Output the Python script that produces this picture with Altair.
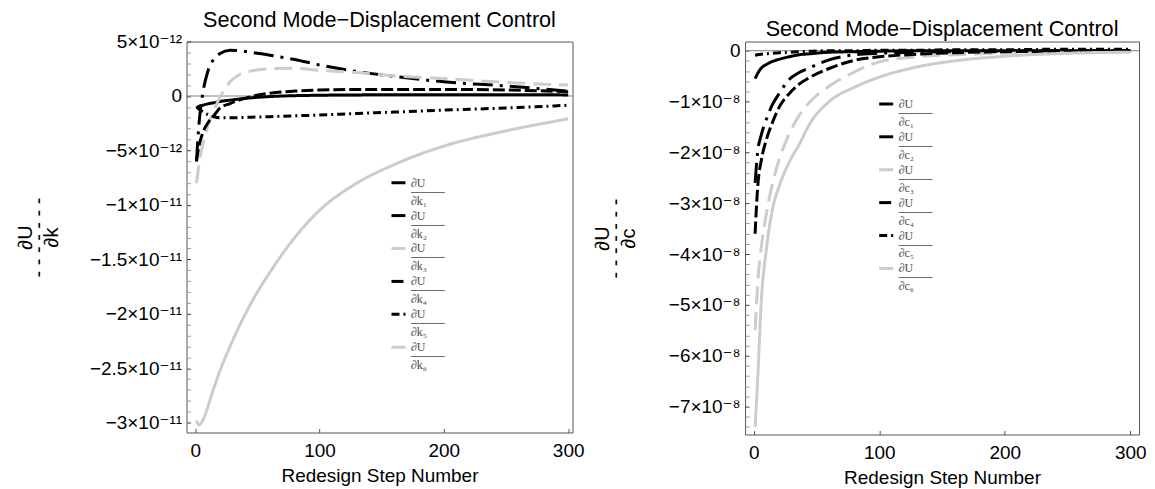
import altair as alt
import pandas as pd

# ---------------- data ----------------
steps = [1, 3, 6, 10, 15, 20, 28, 36, 45, 60, 80, 100, 130, 160, 200, 250, 300]

# left panel: dU/dk, values in units of 1e-12
k_names = ["∂U/∂k₁", "∂U/∂k₂", "∂U/∂k₃", "∂U/∂k₄", "∂U/∂k₅", "∂U/∂k₆"]
k1 = [-1.1, -0.95, -0.85, -0.72, -0.62, -0.5, -0.38, -0.27, -0.17, -0.05, 0.03, 0.07, 0.1, 0.12, 0.12, 0.12, 0.1]
k2 = [-6.0, -2.6, 0.2, 2.2, 3.4, 3.9, 4.2, 4.15, 4.0, 3.75, 3.35, 2.85, 2.25, 1.8, 1.3, 0.92, 0.45]
k3 = [-8.0, -6.3, -4.5, -2.8, -1.3, -0.1, 1.3, 2.0, 2.3, 2.5, 2.55, 2.35, 2.15, 1.85, 1.6, 1.25, 1.0]
k4 = [-6.0, -4.6, -3.4, -2.5, -1.8, -1.1, -0.7, -0.35, -0.05, 0.25, 0.45, 0.55, 0.6, 0.6, 0.6, 0.55, 0.4]
k5 = [-1.0, -1.2, -1.45, -1.7, -1.9, -2.0, -2.0, -1.98, -1.95, -1.9, -1.82, -1.75, -1.6, -1.48, -1.3, -1.1, -0.85]
k6 = [-29.8, -30.2, -29.8, -28.6, -26.8, -25.2, -23.0, -21.0, -19.0, -16.2, -13.0, -10.5, -8.0, -6.3, -4.6, -3.2, -2.1]
# frame ticks: every 1e-12, labelled every 5e-12
k_ticks = list(range(-30, 6))

# right panel: dU/dc, values in units of 1e-8
c_names = ["∂U/∂c₁", "∂U/∂c₂", "∂U/∂c₃", "∂U/∂c₄", "∂U/∂c₅", "∂U/∂c₆"]
c1 = [-0.55, -0.45, -0.34, -0.27, -0.21, -0.17, -0.12, -0.08, -0.06, -0.03, -0.02, -0.01, 0.0, 0.0, 0.0, 0.0, 0.0]
c2 = [-2.6, -2.0, -1.65, -1.35, -1.05, -0.85, -0.57, -0.43, -0.33, -0.18, -0.08, -0.05, -0.03, -0.02, -0.01, 0.0, 0.0]
c3 = [-5.5, -4.6, -3.85, -3.2, -2.6, -2.15, -1.65, -1.28, -1.0, -0.7, -0.42, -0.22, -0.12, -0.08, -0.05, -0.04, -0.03]
c4 = [-3.6, -2.7, -2.15, -1.75, -1.4, -1.12, -0.85, -0.66, -0.52, -0.35, -0.19, -0.12, -0.07, -0.04, -0.02, -0.01, 0.0]
c5 = [-0.09, -0.08, -0.07, -0.06, -0.05, -0.04, -0.03, -0.02, -0.01, 0.0, 0.0, 0.01, 0.01, 0.02, 0.02, 0.03, 0.03]
c6 = [-7.4, -6.5, -4.9, -3.9, -3.1, -2.68, -2.2, -1.85, -1.42, -1.0, -0.72, -0.52, -0.32, -0.2, -0.11, -0.05, -0.03]
# frame ticks: every 0.2e-8, labelled every 1e-8
c_ticks = [round(-0.2 * i, 1) for i in range(0, 38)]

x_ticks = [0, 100, 200, 300]
title_text = "Second Mode−Displacement Control"
x_title = "Redesign Step Number"

# ---------------- styles ----------------
colors = ["#000000", "#000000", "#cccccc", "#000000", "#000000", "#cccccc"]
dashes = [[1, 0], [20, 7, 3, 7], [18, 8], [12, 4], [8, 4, 2, 4], [1, 0]]
widths = [3, 3, 3, 3.2, 1.1, 3.5]
FONT = "Liberation Sans, Arial, DejaVu Sans"
SERIF = "Liberation Serif, DejaVu Serif"


def tidy(names, series):
    rows = []
    for name, vals in zip(names, series):
        for s, v in zip(steps, vals):
            rows.append({"step": s, "val": v, "series": name})
    return pd.DataFrame(rows)


def panel(df, names, xdom, ydom, yticks, label_expr, major_test, ytitle, w, h, lx, ly, tpad):
    leg = alt.Legend(
        orient="none", legendX=lx, legendY=ly, title=None,
        symbolType="stroke", symbolSize=196, labelFont=SERIF, labelFontSize=12,
        labelColor="#4a4a4a", rowPadding=0, labelOffset=4,
        labelExpr="[split(datum.label,'/')[0], '────', split(datum.label,'/')[1]]",
    )
    yscale = alt.Scale(domain=ydom, nice=False, zero=False)
    yaxis = alt.Axis(values=yticks, labelExpr=label_expr, title=ytitle, labelOverlap=False,
                     titlePadding=tpad, labelPadding=5, titleFontSize=20, titleLineHeight=13,
                     tickColor={"condition": {"test": major_test, "value": "#444"}, "value": "#999"})
    xscale = alt.Scale(domain=xdom, nice=False, zero=False)
    xaxis = alt.Axis(values=x_ticks, title=x_title, format="d", labelOverlap=False)
    zero = alt.Chart(pd.DataFrame({"z": [0]})).mark_rule(color="#808080", strokeWidth=1).encode(
        y=alt.Y("z:Q", scale=yscale, axis=yaxis, title=ytitle)
    )
    lines = alt.Chart(df).mark_line(interpolate="monotone", strokeCap="butt", clip=True).encode(
        x=alt.X("step:Q", scale=xscale, axis=xaxis),
        y=alt.Y("val:Q", scale=yscale, axis=yaxis),
        color=alt.Color("series:N", scale=alt.Scale(domain=names, range=colors), legend=leg),
        strokeDash=alt.StrokeDash("series:N", scale=alt.Scale(domain=names, range=dashes), legend=leg),
        strokeWidth=alt.StrokeWidth("series:N", scale=alt.Scale(domain=names, range=widths), legend=leg),
    )
    return alt.layer(zero, lines).properties(
        width=w, height=h,
        title=alt.TitleParams(title_text, fontSize=21.7, fontWeight="normal", font=FONT,
                              anchor="middle", offset=1, color="#000", frame="group"),
    )


left_major = "datum.value % 5 == 0"
left_expr = ("datum.value % 5 != 0 ? '' : (datum.value == 0 ? '0' : (abs(datum.value) < 10 ? "
             "replace('' + datum.value, '-', '−') + '×10⁻¹²' : "
             "replace('' + (datum.value / 10), '-', '−') + '×10⁻¹¹'))")
right_major = "abs(datum.value - round(datum.value)) < 0.001"
right_expr = ("abs(datum.value - round(datum.value)) > 0.001 ? '' : "
              "(round(datum.value) == 0 ? '0' : replace('' + round(datum.value), '-', '−') + '×10⁻⁸')")

left = panel(tidy(k_names, [k1, k2, k3, k4, k5, k6]), k_names, [-7, 303.5], [-30.9, 5.0],
             k_ticks, left_expr, left_major, ["∂U", "- - - - - - -", "∂k"], 387, 392, 204, 133, 28)
right = panel(tidy(c_names, [c1, c2, c3, c4, c5, c6]), c_names, [-7, 307], [-7.55, 0.18],
              c_ticks, right_expr, right_major, ["∂U", "- - - - - - -", "∂c"], 395, 394, 133, 54, 30)

chart = alt.hconcat(left, right, spacing=7).resolve_scale(
    color="independent", strokeDash="independent", strokeWidth="independent", x="independent", y="independent"
).resolve_legend(color="independent", strokeDash="independent", strokeWidth="independent").configure(
    background="white", padding={"left": 7, "right": 0, "top": 0, "bottom": 0},
    style={"guide-label": {"lineHeight": 9}},
).configure_view(
    stroke="#555", strokeWidth=1
).configure_axis(
    domain=False, grid=False, tickSize=4, offset=-4, tickColor="#555", labelFont=FONT, labelFontSize=19,
    labelColor="#000", titleFont=FONT, titleFontSize=19, titleFontWeight="normal", titleColor="#000",
    labelOverlap=False,
).configure_axisX(titlePadding=6, labelPadding=9)

chart.save("out.html", embed_options={"renderer": "svg", "actions": False})
